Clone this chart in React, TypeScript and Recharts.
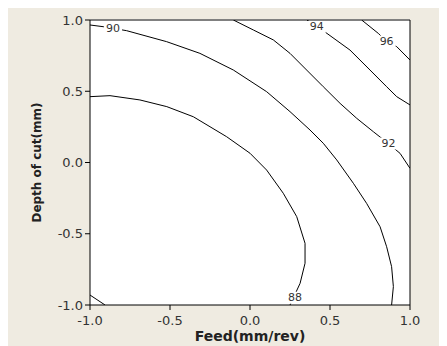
import {
  CartesianGrid,
  ReferenceLine,
  Scatter,
  ScatterChart,
  XAxis,
  YAxis,
} from "recharts";

// contour lines (feed, depth)
const contour88 = [
  { x: -1.0, y: 0.462 },
  { x: -0.875, y: 0.469 },
  { x: -0.688, y: 0.439 },
  { x: -0.52, y: 0.392 },
  { x: -0.354, y: 0.321 },
  { x: -0.146, y: 0.181 },
  { x: 0.0, y: 0.065 },
  { x: 0.104, y: -0.053 },
  { x: 0.208, y: -0.216 },
  { x: 0.292, y: -0.38 },
  { x: 0.344, y: -0.567 },
  { x: 0.344, y: -0.707 },
  { x: 0.313, y: -0.848 },
  { x: 0.25, y: -1.0 },
];

const contour90 = [
  { x: -1.0, y: 0.965 },
  { x: -0.917, y: 0.953 },
  { x: -0.771, y: 0.925 },
  { x: -0.521, y: 0.848 },
  { x: -0.313, y: 0.766 },
  { x: -0.104, y: 0.649 },
  { x: 0.104, y: 0.497 },
  { x: 0.25, y: 0.357 },
  { x: 0.375, y: 0.228 },
  { x: 0.458, y: 0.135 },
  { x: 0.542, y: 0.018 },
  { x: 0.646, y: -0.146 },
  { x: 0.729, y: -0.287 },
  { x: 0.813, y: -0.451 },
  { x: 0.854, y: -0.591 },
  { x: 0.885, y: -0.731 },
  { x: 0.896, y: -0.871 },
  { x: 0.885, y: -1.0 },
];

const contour90Corner = [
  { x: -1.0, y: -0.93 },
  { x: -0.906, y: -1.0 },
];

const contour92 = [
  { x: -0.104, y: 1.0 },
  { x: 0.021, y: 0.93 },
  { x: 0.146, y: 0.86 },
  { x: 0.25, y: 0.766 },
  { x: 0.354, y: 0.649 },
  { x: 0.458, y: 0.532 },
  { x: 0.563, y: 0.415 },
  { x: 0.667, y: 0.31 },
  { x: 0.771, y: 0.216 },
  { x: 0.865, y: 0.133 },
  { x: 0.938, y: 0.064 },
  { x: 1.0, y: -0.041 },
];

const contour94 = [
  { x: 0.356, y: 1.0 },
  { x: 0.481, y: 0.906 },
  { x: 0.625, y: 0.789 },
  { x: 0.75, y: 0.649 },
  { x: 0.854, y: 0.532 },
  { x: 0.917, y: 0.462 },
  { x: 1.0, y: 0.404 },
];

const contour96 = [
  { x: 0.698, y: 1.0 },
  { x: 0.802, y: 0.906 },
  { x: 0.854, y: 0.849 },
  { x: 0.917, y: 0.813 },
  { x: 1.0, y: 0.719 },
];

const contourLabels = [
  { x: -0.856, y: 0.94, text: "90" },
  { x: 0.417, y: 0.951, text: "94" },
  { x: 0.854, y: 0.849, text: "96" },
  { x: 0.865, y: 0.133, text: "92" },
  { x: 0.281, y: -0.949, text: "88" },
];

const axisTicks = [-1, -0.5, 0, 0.5, 1];

const contours = [contour88, contour90, contour90Corner, contour92, contour94, contour96];

const tickStyle = { fill: "#333", fontSize: 13, fontFamily: "DejaVu Sans" };
const titleStyle = { fill: "#222", fontWeight: "bold", fontFamily: "DejaVu Sans" };

const noDot = () => <g />;

const labelShape = (props: any) => {
  const { cx, cy, payload } = props;
  return (
    <g>
      <rect x={cx - 9} y={cy - 6} width={18} height={12} fill="#fff" />
      <text
        x={cx}
        y={cy}
        textAnchor="middle"
        dominantBaseline="central"
        fontSize={11}
        fontFamily="DejaVu Sans"
        fill="#333"
      >
        {payload.text}
      </text>
    </g>
  );
};

export default function App() {
  return (
    <div style={{ width: 439, height: 338, background: "#efebe1" }}>
      <ScatterChart width={439} height={338} margin={{ top: 12, right: 37, left: 0, bottom: 0 }}>
        <CartesianGrid horizontal={false} vertical={false} fill="#fff" fillOpacity={1} />
        <XAxis
          type="number"
          dataKey="x"
          domain={[-1, 1]}
          ticks={axisTicks}
          tickFormatter={(v: number) => v.toFixed(1)}
          allowDataOverflow
          height={41}
          stroke="#000"
          tickSize={5}
          tickMargin={6}
          tick={tickStyle}
          label={{
            value: "Feed(mm/rev)",
            position: "insideBottom",
            offset: 5,
            style: { ...titleStyle, fontSize: 14 },
          }}
        />
        <YAxis
          type="number"
          dataKey="y"
          domain={[-1, 1]}
          ticks={axisTicks}
          tickFormatter={(v: number) => v.toFixed(1)}
          allowDataOverflow
          width={82}
          stroke="#000"
          tickSize={5}
          tick={tickStyle}
          label={{
            value: "Depth of cut(mm)",
            angle: -90,
            position: "insideLeft",
            offset: 29,
            style: { ...titleStyle, fontSize: 12, textAnchor: "middle" },
          }}
        />
        <ReferenceLine y={1} stroke="#808080" strokeWidth={2} />
        <ReferenceLine x={1} stroke="#000" strokeWidth={1} />
        {contours.map((c, i) => (
          <Scatter
            key={i}
            data={c}
            line={{ stroke: "#000", strokeWidth: 1 }}
            shape={noDot}
            isAnimationActive={false}
          />
        ))}
        <Scatter data={contourLabels} shape={labelShape} isAnimationActive={false} />
      </ScatterChart>
    </div>
  );
}
